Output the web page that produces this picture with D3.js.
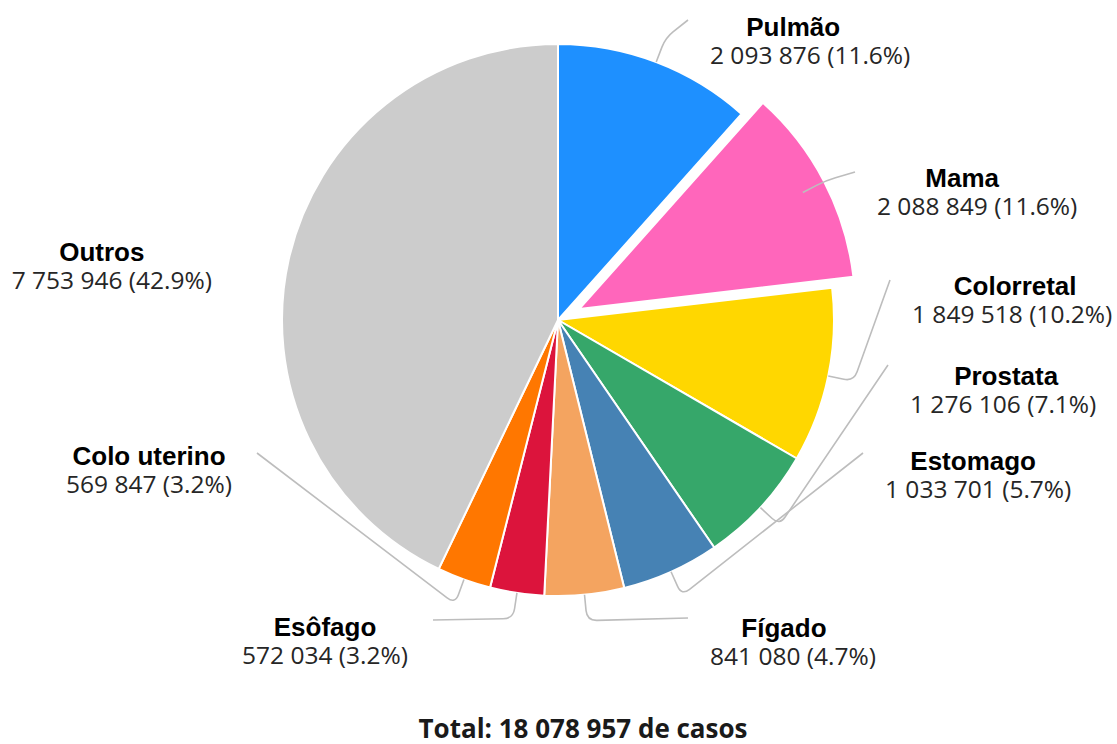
<!DOCTYPE html>
<html>
<head>
<meta charset="utf-8">
<script src="https://cdn.jsdelivr.net/npm/d3@7"></script>
<style>
  body { margin: 0; background: #fff; }
  .name { font-family: "Liberation Sans", Arial, sans-serif; font-weight: bold; font-size: 26px; fill: #000; }
  .value { font-family: "Open Sans", sans-serif; font-size: 24.5px; fill: #262626; }
  .total { font-family: "Open Sans", sans-serif; font-weight: bold; font-size: 26px; fill: #1a1a1a; }
</style>
</head>
<body>
<div id="chart"></div>
<script>
const width = 1117;
const height = 744;

// data
const categories = ["Pulmão", "Mama", "Colorretal", "Prostata", "Estomago", "Fígado", "Esôfago", "Colo uterino", "Outros"];
const cases = [2093876, 2088849, 1849518, 1276106, 1033701, 841080, 572034, 569847, 7753946];
const colors = ["#1E90FF", "#FF66BB", "#FFD700", "#36A76A", "#4682B4", "#F4A460", "#DC143C", "#FF7700", "#CCCCCC"];
const explodedCategory = "Mama";

// label placement (line end point, name baseline, name shift)
const labelLayout = [
    { side: "r", end: [688, 20], y: 36, dx: -17 },
    { side: "r", end: [855, 172], y: 187, dx: -15 },
    { side: "r", end: [890, 280], y: 295, dx: 3 },
    { side: "r", end: [888, 365], y: 385, dx: 3 },
    { side: "r", end: [863, 453], y: 470, dx: -5 },
    { side: "r", end: [688, 618], y: 637, dx: -9 },
    { side: "l", end: [433, 620], y: 636, dx: 0 },
    { side: "l", end: [257, 453], y: 465, dx: 0 },
    { side: "l", end: null, x: 212, y: 261, dx: -10 }
];

const cx = 558, cy = 320, radius = 276;
const total = d3.sum(cases);

const locale = d3.formatLocale({ decimal: ".", thousands: " ", grouping: [3], currency: ["", ""] });
const fmt = locale.format(",d");
const pct = d3.format(".1f");

const data = categories.map((c, i) => ({ name: c, value: cases[i], color: colors[i] }));

const svg = d3.select("#chart").append("svg")
    .attr("width", width)
    .attr("height", height);

const pie = d3.pie()
    .sort(null)
    .value(d => d.value);

const arcs = pie(data);

const arc = d3.arc()
    .innerRadius(0)
    .outerRadius(radius);

const g = svg.append("g")
    .attr("transform", `translate(${cx},${cy})`);

const explode = 24;

g.selectAll(".slice")
    .data(arcs)
    .join("path")
    .attr("class", "slice")
    .attr("d", arc)
    .attr("fill", d => d.data.color)
    .attr("stroke", "#fff")
    .attr("stroke-width", 2)
    .attr("transform", d => {
        if (d.data.name !== explodedCategory) return null;
        const a = (d.startAngle + d.endAngle) / 2;
        return `translate(${Math.sin(a) * explode},${-Math.cos(a) * explode})`;
    });

// connectors
function polar(r, a) {
    return [cx + Math.sin(a) * r, cy - Math.cos(a) * r];
}

function elbowPath(p0, p1, p2, r) {
    const d1 = Math.hypot(p0[0] - p1[0], p0[1] - p1[1]);
    const d2 = Math.hypot(p2[0] - p1[0], p2[1] - p1[1]);
    const k1 = Math.min(r, d1 / 2) / d1;
    const k2 = Math.min(r, d2 / 2) / d2;
    const a = [p1[0] + (p0[0] - p1[0]) * k1, p1[1] + (p0[1] - p1[1]) * k1];
    const b = [p1[0] + (p2[0] - p1[0]) * k2, p1[1] + (p2[1] - p1[1]) * k2];
    return `M${p0[0]},${p0[1]}L${a[0]},${a[1]}Q${p1[0]},${p1[1]} ${b[0]},${b[1]}L${p2[0]},${p2[1]}`;
}

svg.selectAll(".connector")
    .data(arcs.filter((d, i) => labelLayout[i].end))
    .join("path")
    .attr("class", "connector")
    .attr("fill", "none")
    .attr("stroke", "#bdbdbd")
    .attr("stroke-width", 1.6)
    .attr("d", d => {
        const i = d.index;
        const a = (d.startAngle + d.endAngle) / 2;
        return elbowPath(polar(radius, a), polar(radius + 26, a), labelLayout[i].end, 10);
    });

// labels
arcs.forEach((d, i) => {
    const lay = labelLayout[i];
    const valueText = `${fmt(d.data.value)} (${pct(d.data.value / total * 100)}%)`;
    const vy = lay.y + 28;

    const val = svg.append("text")
        .attr("class", "value")
        .attr("y", vy)
        .text(valueText);

    let x0;
    if (lay.end) {
        x0 = lay.side === "r" ? lay.end[0] + 22 : lay.end[0] - 25;
    } else {
        x0 = lay.x;
    }
    const w = val.node().getComputedTextLength();
    const mid = lay.side === "r" ? x0 + w / 2 : x0 - w / 2;
    val.attr("x", mid).attr("text-anchor", "middle");

    svg.append("text")
        .attr("class", "name")
        .attr("x", mid + lay.dx)
        .attr("y", lay.y)
        .attr("text-anchor", "middle")
        .text(d.data.name);
});

svg.append("text")
    .attr("class", "total")
    .attr("x", 583)
    .attr("y", 738)
    .attr("text-anchor", "middle")
    .text(`Total: ${fmt(total)} de casos`);
</script>
</body>
</html>
